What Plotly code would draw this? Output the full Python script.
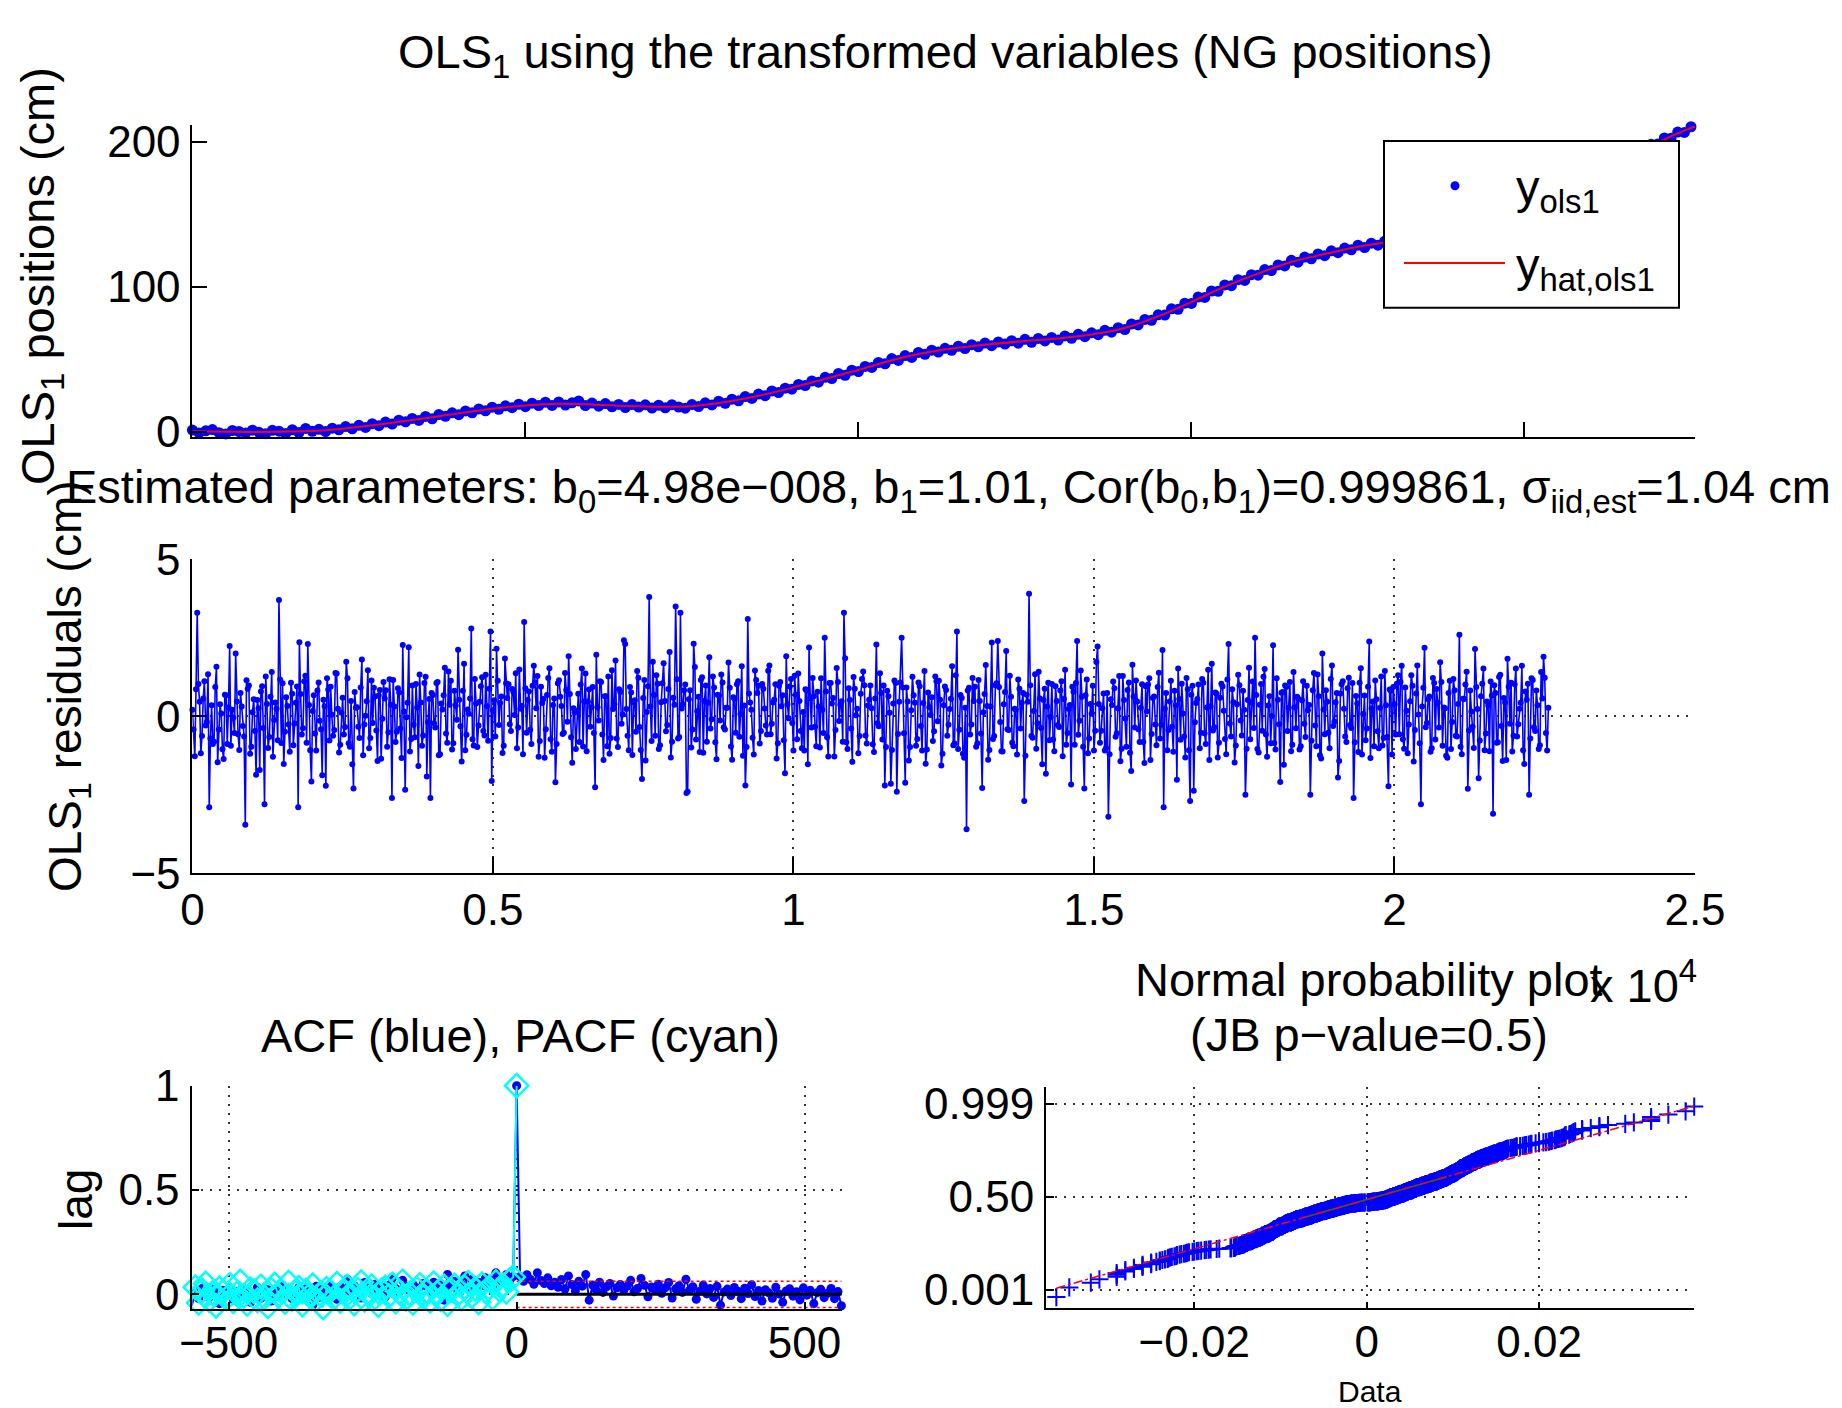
import numpy as np
import plotly.graph_objects as go
from statistics import NormalDist

W, H = 1842, 1408
FONT = "Liberation Sans, Arial, Helvetica, sans-serif"
BLUE, RED, CYAN, GREEN = "#0000ff", "#ff0000", "#00ffff", "#008000"

# ---------------- data ----------------
# fitted OLS_1 positions (cm) at sample index fit_x
fit_x = list(range(0, 22501, 500)) + [22560]
fit_y = [0.3, 0.0, -0.2, 0.1, 1.0, 3.3, 6.1, 9.3, 12.6, 15.8, 18.1, 19.3, 18.8, 17.7, 17.1, 17.6,
         20.4, 24.8, 30.2, 36.4, 42.5, 49.2, 54.4, 57.8, 60.4, 62.5, 64.3, 67.0, 71.5, 79.5, 89.5,
         100.0, 109.0, 117.0, 122.5, 127.5, 131.0, 133.5, 137.0, 142.0, 150.0, 161.0, 174.0, 187.5,
         199.5, 209.5, 210.5]

# observed OLS_1 positions (cm), one every 100 samples
obs_step = 100
obs_y = [1.1, -0.9, 0.6, 1.4, -0.7, -1.6, 0.8, 0.1, -1.0, 1.0, -0.5, -1.4, 0.9, 0.3, -1.2,
         1.3, -0.6, 2.2, 0.2, 1.6, 0.1, 2.4, 1.3, 3.5, 2.0, 4.4, 2.9, 5.5, 4.1, 6.6,
         5.2, 7.9, 6.8, 9.1, 7.7, 10.5, 8.9, 11.8, 10.6, 13.0, 11.7, 14.3, 13.0, 15.7, 14.4,
         16.9, 15.4, 17.8, 16.5, 18.9, 17.2, 19.6, 18.0, 20.3, 18.1, 20.5, 18.3, 19.9, 21.2, 18.0,
         19.7, 17.6, 19.4, 17.1, 18.8, 16.6, 18.7, 17.0, 18.5, 16.3, 18.2, 16.4, 18.6, 17.0, 16.2,
         18.7, 17.3, 19.9, 18.4, 21.0, 19.5, 22.4, 21.3, 24.2, 22.9, 25.9, 24.8, 28.1, 27.0, 30.0,
         29.3, 32.6, 31.8, 35.0, 34.1, 37.5, 36.6, 40.1, 38.9, 42.4, 41.4, 45.0, 44.3, 47.7, 46.8,
         50.4, 49.1, 52.5, 51.2, 54.6, 53.3, 56.2, 54.9, 57.5, 56.1, 58.9, 57.3, 60.0, 58.5, 61.1,
         59.3, 61.9, 60.4, 62.7, 61.0, 63.7, 61.6, 64.3, 62.6, 65.0, 63.2, 66.0, 64.4, 67.1, 65.5,
         68.2, 66.9, 69.9, 68.6, 71.7, 70.4, 74.3, 73.6, 77.4, 76.8, 80.6, 80.4, 84.7, 84.4, 88.6,
         88.4, 92.8, 92.6, 97.0, 96.8, 101.2, 100.7, 104.8, 104.3, 108.3, 107.9, 111.8, 111.1, 115.0, 114.3,
         118.2, 116.9, 120.4, 119.2, 122.6, 121.4, 124.7, 123.4, 126.6, 125.4, 128.6, 127.0, 130.0, 128.6, 131.4,
         129.9, 132.6, 131.0, 133.6, 132.0, 134.6, 133.1, 136.0, 134.5, 137.4, 135.9, 139.2, 138.0, 141.1, 139.9,
         143.1, 142.5, 146.3, 145.7, 149.5, 148.9, 153.3, 153.4, 157.7, 157.7, 162.1, 162.5, 167.3, 167.7, 172.5,
         172.9, 177.8, 178.3, 183.2, 183.7, 188.6, 188.8, 193.4, 193.6, 198.2, 198.4, 202.6, 202.4, 206.6, 206.4,
         210.3]

# OLS_1 residuals (cm): samples 0, 40, 80, ... and samples 20, 60, 100, ...
resid_step = 40
resid_even = [
    0.21, -1.27, 3.30, 0.46, -0.63, 1.12, -0.18, -2.90, 0.35, -0.81, 1.58, -0.42, 0.09, -1.36, 0.67, 0.28, -0.94, -0.05, 2.00, -0.57,
    0.74, -0.31, -3.45, 0.88, -1.19, 0.13, -0.47, 0.52, -1.71, 0.96, -2.80, 0.39, -0.66, 1.41, -0.12, 0.24, 3.70, -0.85, -1.52, 0.61,
    -0.26, 1.07, -0.92, 0.43, -2.90, 0.71, -0.38, 1.29, 2.30, -1.08, 0.17, -0.55, 0.82, -0.14, -1.88, 0.32, 1.21, -0.77, 0.05, -0.44,
    1.36, -1.15, 0.11, -0.58, 1.74, -0.86, 0.49, -2.30, 0.27, -0.33, 0.92, -1.24, 0.02, 1.47, -0.69, -0.21, 0.63, -1.42, 0.84, -0.08,
    0.57, -0.97, 1.18, -2.60, 0.31, -0.49, 0.76, -1.33, 0.15, -0.03, 2.20, -0.72, -0.27, 1.03, -1.58, 0.44, -0.61, 1.26, -0.19, -2.60,
    0.68, -0.36, 1.09, -1.21, 0.22, 1.55, -0.84, 0.37, -1.06, 0.81, -0.11, 0.53, -1.44, 1.67, -0.59, 0.08, 2.80, -0.93, 0.41, -0.29,
    0.96, -0.47, 1.32, -0.78, 2.70, 0.19, -0.64, 1.13, 0.42, -1.17, 1.84, 0.58, -0.25, 0.87, 0.04, -1.02, 1.49, 0.33, 3.00, -0.52,
    0.79, -0.88, 1.61, 0.26, -1.29, 0.94, 0.55, -0.41, 1.22, -0.73, 0.36, -2.10, 1.05, 0.62, -0.56, 1.38, -0.17, 0.71, -1.48, 0.12,
    0.18, -0.82, 1.52, 0.47, -1.11, 0.85, 0.29, -0.53, 1.96, -0.13, 1.09, -1.39, 0.64, 1.27, -0.69, 0.23, 1.78, -0.98, 0.77, 0.06,
    2.30, -0.62, 0.93, -1.23, 0.51, 1.44, -0.34, -2.00, 1.16, 0.14, 3.80, -0.79, 0.68, 1.31, -1.04, 0.45, 1.69, -0.48, 0.87, -1.31,
    0.59, 3.50, -0.71, 3.30, 0.38, 1.01, -2.40, 0.83, -0.42, 1.57, 0.16, -1.14, 1.24, 0.49, -0.81, 1.88, -0.09, 0.92, -1.37, 0.66,
    1.33, -0.35, 0.27, 1.71, -0.96, 0.61, -0.52, 1.12, 0.07, -1.26, -2.20, 3.10, 0.44, -0.68, 1.46, 0.74, -0.87, 1.03, 0.25, -0.58,
    1.62, -0.24, 0.53, -1.34, 0.97, 0.32, -0.76, 1.91, -0.06, 1.19, -1.09, 0.69, 1.36, -0.47, 0.14, 0.86, -1.53, 0.58, 1.22, -0.33,
    0.78, -0.99, 0.21, 2.50, -0.67, 1.06, 0.41, -1.28, 1.54, -0.15, 0.48, 3.30, -0.83, 0.89, -0.39, 1.25, 0.03, -1.18, 0.72, 1.43,
    -0.61, 0.34, 0.98, -0.89, 0.57, -0.22, 1.37, -0.74, -2.20, 0.81, 0.11, -1.07, 1.14, -2.40, 0.46, 2.50, -0.54, 0.92, -1.41, 0.19,
    0.67, -0.94, 1.08, -0.31, 0.42, -1.51, 0.76, 0.04, -0.79, 1.27, -0.16, 0.53, -1.19, 0.95, -0.62, 0.23, 1.59, -0.87, 2.70, -0.43,
    0.58, -1.32, -3.60, 0.91, -0.26, 0.49, -0.97, 1.16, -0.55, 0.13, 1.63, -1.38, 0.31, -0.72, 0.99, 2.40, -0.18, -1.12, 0.77, -0.41,
    1.29, -0.84, 0.24, -1.22, 0.88, 0.43, -2.70, 0.69, 3.90, -0.63, 0.17, -1.03, 1.42, -0.37, 0.52, -1.83, 1.07, -0.02, -0.74, 0.96,
    -0.28, 0.82, -1.27, 1.48, -0.53, 0.36, 0.94, -0.91, 2.40, -0.14, 0.62, -2.30, 1.17, -0.71, 0.08, -1.09, 1.73, 0.39, -0.46, 0.73,
    -1.01, -3.20, 0.54, 1.11, -0.65, 0.26, -1.43, 1.28, -0.07, 0.84, -1.16, 1.64, -0.36, 0.47, -0.82, 1.02, -1.49, 0.15, 1.21, -0.56,
    0.63, -0.92, 1.39, -0.27, -2.90, 0.74, -0.44, 1.13, -1.13, 0.35, 1.52, -0.75, 0.09, -1.31, 0.86, -2.70, 0.97, -0.19, 0.55, -1.02,
    1.19, -0.54, 0.28, -1.39, 1.67, -0.35, 0.72, -0.84, 1.04, 0.18, -1.21, 2.30, -0.64, 0.45, -0.93, 1.32, -0.13, 0.81, -2.50, 0.52,
    -0.73, 1.11, 2.50, -1.04, 0.37, -0.46, 1.51, -1.29, 0.64, 0.01, -0.85, 1.21, -0.25, 0.75, -1.54, 0.93, 0.27, -1.11, 1.41, -0.38,
    0.56, -0.95, 1.12, -0.66, 0.19, -2.50, 0.83, -0.29, 1.33, -1.24, 2.00, -0.57, 0.46, -1.02, 1.62, -0.17, 0.74, -1.42, 1.02, 0.24,
    -0.82, 1.23, -0.37, -2.60, 0.65, -1.14, 1.53, 0.07, -0.76, 0.94, -1.33, 0.47, 1.14, -0.48, 0.27, -0.93, 1.44, -0.66, 0.85, -1.22,
    0.38, 1.04, -0.57, 1.61, -1.03, 0.18, -0.26, 1.31, -1.44, 0.73, 0.06, -2.80, 0.91, -0.35, 0.54, -1.13, 1.22, -0.74, 0.43, 1.72,
    -0.94, 0.26, -1.32, 1.13, -0.18, 0.83, -0.64, 2.60, -1.21, 0.55, 1.42, -0.45, 0.15, -1.01, 0.93, -1.97, 0.64, 1.52, -0.55, 0.34,
    1.11, -3.10, 0.74, -0.83, 1.32, -1.42, 0.44, 1.83, -0.24, -1.12, 1.02, -0.64, 0.24, 1.61, -1.52, 0.53, -2.50, 1.21, -0.35, 0.82,
    -1.04, 1.41, 1.90, -0.53, 0.27]
resid_odd = [
    -0.42, 0.86, 1.03, -1.18, 0.57, -0.29, 1.34, -0.71, -0.88, 0.93, -1.46, 0.38, -1.05, 0.69, -0.88, 2.24, 0.21, -0.53, 0.47, -1.07,
    0.31, -0.64, 1.15, 0.98, -0.97, 0.54, -1.86, 0.26, 0.79, -0.37, 1.27, -1.01, 0.62, -1.29, 0.44, -0.76, 1.17, 1.05, -0.49, 0.33,
    -1.13, 0.72, -0.23, 0.95, 2.36, -0.58, 1.12, -0.84, 0.36, -2.08, 0.67, -1.09, 1.08, -0.41, 0.53, -2.21, 0.85, 0.94, -0.62, 1.38,
    0.24, -0.91, 0.59, -0.34, 1.21, -0.97, -1.53, 0.77, 0.29, -0.69, 1.81, -0.26, 0.48, -1.02, 1.14, 0.91, -0.45, 0.66, -1.35, 1.09,
    0.83, -0.51, 0.37, 1.16, -0.82, 0.89, -0.39, 2.27, -2.34, 0.43, -1.12, 0.98, -0.67, 0.28, 1.33, -0.94, 1.06, -1.92, 0.55, 0.74,
    -0.22, 1.06, -1.24, 0.41, 0.67, -0.55, 1.43, 1.13, -0.86, 0.34, 2.12, -0.32, 0.81, -1.08, 0.22, 0.57, -0.73, 1.19, -0.98, 0.46,
    1.24, -0.61, 0.32, 0.88, -2.06, 0.51, 2.15, -0.28, 0.63, -0.94, 1.05, 1.02, -0.47, 0.78, 1.37, -0.36, 0.24, -1.21, 0.89, 0.52,
    -0.43, 0.97, 1.08, 1.28, -0.79, 0.42, -1.32, 0.68, 1.53, -1.13, 0.57, -0.88, 1.15, 0.33, -0.52, 0.84, 1.91, -0.67, 0.26, -1.04,
    0.72, 1.01, -0.96, 1.36, 0.47, -0.33, 0.93, -2.26, 0.29, 1.12, -0.58, 0.64, -0.95, -1.19, 1.47, 0.38, -0.71, 0.86, -0.24, 2.42,
    0.23, -1.08, 0.76, 0.44, -0.49, 1.23, -1.07, 0.58, -1.41, 0.96, 0.31, 1.74, -0.62, 1.04, -0.92, 1.05, 0.49, -0.28, 2.05, -0.81,
    0.37, 1.18, -0.66, 0.25, 0.83, -2.44, 0.54, -0.99, 2.31, -0.74, 0.62, 1.16, -1.16, 0.98, 0.43, -0.39, 1.27, -0.83, 0.69, -0.13,
    1.08, -0.42, 0.27, 0.91, -1.38, 0.56, 1.02, -0.65, 1.59, 0.34, -0.98, 0.73, 0.21, -1.22, 1.16, 0.97, -0.47, 0.88, -0.29, 1.45,
    -0.57, 0.44, 1.02, -0.86, 1.09, 0.67, -1.81, 0.38, 0.95, -0.21, 1.29, -0.73, 0.49, -1.02, -1.09, 0.82, 2.19, -0.36, 0.64, -0.95,
    0.31, 1.21, -0.53, 0.79, -1.28, 1.06, 0.58, -0.44, 1.09, 0.37, -0.81, 1.85, -1.04, 0.52, -1.45, 0.88, 0.24, -0.63, 1.19, 0.99,
    -0.87, 0.53, 0.26, -1.14, 2.29, -0.32, 0.74, 0.98, -0.98, 0.64, -2.15, 0.41, 1.06, -0.56, 1.08, 0.92, -2.12, 0.47, -0.98, 1.26,
    0.43, -0.72, 0.96, -1.09, 1.44, -1.06, 0.29, 0.61, -0.48, 1.12, 1.13, -1.57, 0.35, 0.84, -0.27, 0.56, -0.92, 1.31, -1.04, 0.68,
    -1.19, 0.27, 0.82, -0.58, 1.22, 0.94, -0.86, 0.49, -2.28, 0.71, 0.33, -1.07, 2.35, -0.63, 1.05, 0.93, -1.11, 0.38, 2.08, -0.44,
    0.62, -0.95, 0.21, 1.17, -0.39, 0.74, -1.26, 0.46, 0.99, -0.68, 1.34, -0.22, 0.57, -1.53, 0.88, 0.31, -0.76, 1.03, -1.11, 0.49,
    -0.34, 1.12, 0.55, -0.91, 0.23, -2.17, 0.78, 1.06, -0.59, 1.46, -0.97, 0.67, -1.18, 0.39, 0.97, -0.46, 2.22, -0.84, 0.26, -1.09,
    0.74, -1.21, 0.36, 0.89, -0.54, 1.28, -1.03, 0.52, -0.97, 1.08, -1.74, 0.63, 1.14, -0.41, 0.27, -0.82, 0.96, 1.01, -1.39, 0.58,
    -0.26, 0.93, -0.71, 2.11, 0.24, -1.08, 0.47, -0.33, 0.81, -2.02, 0.55, 1.04, -0.64, 1.22, -1.08, 0.69, -2.37, 0.42, 1.01, -0.52,
    1.07, -0.88, 1.48, 0.32, -0.45, 0.76, -1.31, 0.59, 0.95, -0.72, 1.17, -0.23, 0.86, -1.47, 0.38, 0.99, -0.61, 0.21, -1.03, 1.55,
    0.44, -0.37, 0.68, -1.15, 1.03, 1.26, -0.58, 0.34, -0.86, 2.26, -1.06, 0.53, -2.09, 0.77, 0.98, -0.47, 1.09, -0.91, 0.29, 0.62,
    -1.06, 0.51, -0.24, 0.97, 0.36, -0.78, 1.38, -0.95, 0.64, -1.34, 0.22, 0.83, -0.52, 1.19, -0.31, 0.45, -1.95, 0.73, 1.12, -0.64,
    0.89, -0.28, 1.06, -0.83, 0.41, 1.07, -1.22, 0.66, -0.39, 2.38, 0.25, -0.95, 0.54, -1.02, 1.27, -0.69, 0.35, -2.23, 0.81, 0.93,
    -0.58, 1.31, 1.09, -0.73, 0.92, -1.18, 0.48, 0.97, -0.44, 1.62, -0.86, 0.31, 2.18, -0.21, 0.63, -1.02, 1.06, 0.87, -0.36, 1.09,
    0.28, -1.26, 0.74, -1.04, 1.19, -0.62, 0.39, -0.97, 0.56, 1.01, -2.31, 0.82, -0.33, 2.14, 0.23, -0.77, 1.04, -1.08, 0.47, -1.11,
    0.66, 0.99, -0.84, 1.25, -0.31, 0.58, -1.39, 0.94, 1.07, -0.62, 1.52, -0.25, 0.43, -1.08, 0.79, 1.04, -0.71, 1.16, -0.47, 0.35,
    -0.92, 0.57, 1.23, -1.09]

# autocorrelation of the residuals at lags 6, 12, ..., 564
lag_step = 6
acf_pos = [0.085, 0.062, 0.094, 0.071, 0.048, 0.103, 0.066, 0.052, 0.079, 0.041,
           0.058, 0.034, 0.071, 0.025, 0.088, 0.047, 0.016, 0.062, 0.039, 0.095,
           -0.028, 0.044, 0.021, 0.058, 0.009, 0.036, 0.052, -0.008, 0.031, 0.047,
           0.018, 0.039, 0.067, 0.012, 0.028, 0.076, 0.043, -0.012, 0.035, 0.022,
           0.048, 0.005, 0.031, 0.057, -0.018, 0.026, 0.041, 0.009, 0.072, 0.019,
           0.036, -0.024, 0.015, 0.044, 0.002, 0.028, -0.015, 0.038, -0.052, 0.011,
           0.025, -0.006, 0.033, 0.014, -0.021, 0.029, 0.004, 0.046, -0.011, 0.018,
           -0.032, 0.022, 0.007, -0.019, 0.034, 0.001, -0.038, 0.016, 0.027, -0.009,
           0.012, -0.027, 0.031, -0.004, 0.019, -0.045, 0.008, 0.024, -0.016, 0.005,
           0.028, -0.021, 0.013, -0.055]
# partial autocorrelation drawn on the negative lags -564, ..., -6
pacf_neg = [-0.012, 0.034, -0.041, 0.018, 0.052, -0.027, 0.006, -0.055, 0.029, 0.011,
            -0.019, 0.045, -0.034, 0.003, 0.061, -0.008, -0.046, 0.024, 0.015, -0.029,
            0.038, -0.014, -0.058, 0.021, 0.047, -0.003, 0.012, -0.037, 0.056, -0.021,
            0.008, 0.031, -0.049, 0.017, -0.006, 0.043, -0.025, 0.002, -0.063, 0.027,
            0.014, -0.018, 0.051, -0.032, 0.009, 0.036, -0.011, -0.044, 0.022, 0.058,
            -0.026, 0.005, 0.039, -0.016, -0.052, 0.019, 0.033, -0.008, 0.047, -0.035,
            0.011, 0.062, -0.021, 0.004, -0.041, 0.028, 0.045, -0.013, 0.016, -0.031,
            0.053, 0.007, -0.024, 0.037, -0.047, 0.021, 0.042, 0.001, -0.019, 0.034,
            0.056, -0.009, 0.026, -0.038, 0.048, 0.015, 0.031, -0.016, 0.059, 0.023,
            0.044, 0.012, 0.067, 0.082]
conf_bound = 0.063
max_lag = 564

main_title = "OLS<sub>1</sub> using the transformed variables (NG positions)"
param_title = ("Estimated parameters: b<sub>0</sub>=4.98e\u2212008, b<sub>1</sub>=1.01, "
               "Cor(b<sub>0</sub>,b<sub>1</sub>)=0.999861, \u03c3<sub>iid,est</sub>=1.04 cm")

# ---------------- derived series ----------------
obs_x = np.arange(len(obs_y)) * obs_step
x_even = np.arange(len(resid_even)) * resid_step
x_odd = np.arange(len(resid_odd)) * resid_step + resid_step // 2
order = np.argsort(np.concatenate([x_even, x_odd]), kind="stable")
resid_x = np.concatenate([x_even, x_odd])[order]
resid = np.concatenate([resid_even, resid_odd])[order]

lags_pos = np.arange(1, len(acf_pos) + 1) * lag_step
acf_lags = np.concatenate([-lags_pos[::-1], [0], lags_pos])
acf_vals = np.concatenate([np.array(acf_pos)[::-1], [1.0], acf_pos])
pacf_lags = np.concatenate([-lags_pos[::-1], [0]])
pacf_vals = np.concatenate([pacf_neg, [1.0]])

# normal probability plot of the residuals (in metres)
nd = NormalDist()
data_m = np.sort(resid) / 100.0
n = len(data_m)
zq = np.array([nd.inv_cdf((i + 0.5) / n) for i in range(n)])
q1, q3 = np.percentile(data_m, [25, 75])
z1, z3 = nd.inv_cdf(0.25), nd.inv_cdf(0.75)
slope = (z3 - z1) / (q3 - q1)
ref_x = np.array([data_m.min(), data_m.max()])
ref_z = z1 + slope * (ref_x - q1)

# ---------------- figure ----------------
def px(x):
    return x / W


def py(y):
    return 1 - y / H


fig = go.Figure()

# top: positions and fit
fig.add_trace(go.Scatter(x=obs_x, y=obs_y, mode="markers", cliponaxis=False,
                         marker=dict(color=BLUE, size=11), xaxis="x", yaxis="y"))
fig.add_trace(go.Scatter(x=fit_x, y=fit_y, mode="lines", line=dict(color=RED, width=2, shape="spline"),
                         xaxis="x", yaxis="y"))

# middle: residuals
fig.add_trace(go.Scatter(x=resid_x, y=resid, mode="lines+markers", cliponaxis=False,
                         line=dict(color=BLUE, width=1.6), marker=dict(color=BLUE, size=6),
                         xaxis="x2", yaxis="y2"))

# bottom left: ACF / PACF
fig.add_trace(go.Scatter(x=acf_lags, y=acf_vals, mode="lines+markers", cliponaxis=False,
                         line=dict(color=BLUE, width=2), marker=dict(color=BLUE, size=9),
                         xaxis="x3", yaxis="y3"))
fig.add_trace(go.Scatter(x=[0, max_lag], y=[0, 0], mode="lines", line=dict(color="black", width=3),
                         xaxis="x3", yaxis="y3"))
for b in (conf_bound, -conf_bound):
    fig.add_trace(go.Scatter(x=[0, max_lag], y=[b, b], mode="lines",
                             line=dict(color=RED, width=1.5, dash="dot"), xaxis="x3", yaxis="y3"))
fig.add_trace(go.Scatter(x=pacf_lags, y=pacf_vals, mode="lines+markers", cliponaxis=False,
                         line=dict(color=CYAN, width=2),
                         marker=dict(symbol="diamond-open", color=CYAN, size=18, line=dict(width=2.5, color=CYAN)),
                         xaxis="x3", yaxis="y3"))

# bottom right: normal probability plot
fig.add_trace(go.Scatter(x=data_m, y=zq, mode="markers", cliponaxis=False,
                         marker=dict(symbol="cross-thin", size=13, color=BLUE, line=dict(width=2, color=BLUE)),
                         xaxis="x4", yaxis="y4"))
fig.add_trace(go.Scatter(x=[q1, q3], y=[z1, z3], mode="lines", line=dict(color=GREEN, width=1.5),
                         xaxis="x4", yaxis="y4"))
fig.add_trace(go.Scatter(x=ref_x, y=ref_z, mode="lines", line=dict(color=RED, width=1.5, dash="dashdot"),
                         xaxis="x4", yaxis="y4"))

axis_common = dict(showline=True, linecolor="black", linewidth=2, ticks="inside", tickcolor="black",
                   tickwidth=1.5, zeroline=False, automargin=False,
                   tickfont=dict(family=FONT, size=44, color="black"),
                   gridcolor="#333333", gridwidth=1.5, griddash="2px,7px")

dom_x_wide = [px(192.4), px(1695)]
fig.update_layout(
    width=W, height=H, autosize=False,
    margin=dict(l=0, r=0, t=0, b=0, pad=0, autoexpand=False),
    paper_bgcolor="white", plot_bgcolor="white", showlegend=False,
    font=dict(family=FONT, size=44, color="black"),
    xaxis=dict(axis_common, domain=dom_x_wide, anchor="y", range=[0, 22560],
               tickvals=[5000, 10000, 15000, 20000], showticklabels=False, ticklen=15, showgrid=False),
    yaxis=dict(axis_common, domain=[py(437.3), py(125)], anchor="x", range=[-3.9, 211.5],
               tickvals=[0, 100, 200], ticklen=15, showgrid=False, ticklabelstandoff=1),
    xaxis2=dict(axis_common, domain=dom_x_wide, anchor="y2", range=[0, 25000],
                tickvals=[0, 5000, 10000, 15000, 20000, 25000],
                ticktext=["0", "0.5", "1", "1.5", "2", "2.5"], ticklen=16, showgrid=True,
                ticklabelstandoff=-3),
    yaxis2=dict(axis_common, domain=[py(873.3), py(559.3)], anchor="x2", range=[-5, 5],
                tickvals=[-5, 0, 5], ticklen=15, showgrid=True, ticklabelstandoff=1),
    xaxis3=dict(axis_common, domain=[px(192.4), px(842)], anchor="y3", range=[-563, 565],
                tickvals=[-500, 0, 500], ticklen=7, showgrid=True, ticklabelstandoff=-6),
    yaxis3=dict(axis_common, domain=[py(1309), py(1085.7)], anchor="x3", range=[-0.0705, 1.0],
                tickvals=[0, 0.5, 1], ticklen=7, showgrid=True, ticklabelstandoff=2),
    xaxis4=dict(axis_common, domain=[px(1046), px(1694.2)], anchor="y4", range=[-0.0372, 0.038],
                tickvals=[-0.02, 0, 0.02], ticklen=6, showgrid=True, ticklabelstandoff=-6),
    yaxis4=dict(axis_common, domain=[py(1308), py(1086.7)], anchor="x4", range=[-3.688, 3.664],
                tickvals=[nd.inv_cdf(0.001), 0, nd.inv_cdf(0.999)],
                ticktext=["0.001", "0.50", "0.999"], ticklen=8, showgrid=True, ticklabelstandoff=1),
)


def note(text, x, y, size=47, angle=0, xanchor="center", yanchor="middle"):
    fig.add_annotation(text=text, x=px(x), y=py(y), xref="paper", yref="paper", showarrow=False,
                       textangle=angle, xanchor=xanchor, yanchor=yanchor,
                       font=dict(family=FONT, size=size, color="black"))


note(main_title, 945, 55)
note(param_title, 948, 490)
note("OLS<sub>1</sub> positions (cm)", 41, 276, size=47, angle=-90)
note("OLS<sub>1</sub> residuals (cm)", 68, 686, size=46, angle=-90)
note("lag", 76, 1200, size=46, angle=-90)
note("ACF (blue), PACF (cyan)", 520, 1035)
note("Normal probability plot", 1369, 979)
note("(JB p\u2212value=0.5)", 1369, 1034)
note("Data", 1370, 1391, size=30)
note("x 10<sup>4</sup>", 1588, 982, xanchor="left")

# legend box of the top panel
fig.add_shape(type="rect", xref="paper", yref="paper", x0=px(1384), x1=px(1679), y0=py(307.7), y1=py(141),
              line=dict(color="black", width=2), fillcolor="white", layer="above")
fig.add_shape(type="circle", xref="paper", yref="paper", x0=px(1450.5), x1=px(1459.5), y0=py(190.2),
              y1=py(181.2), line=dict(color=BLUE, width=0), fillcolor=BLUE, layer="above")
fig.add_shape(type="line", xref="paper", yref="paper", x0=px(1404), x1=px(1505), y0=py(263), y1=py(263),
              line=dict(color=RED, width=2), layer="above")
note("y<sub>ols1</sub>", 1514, 190, xanchor="left")
note("y<sub>hat,ols1</sub>", 1514, 268, xanchor="left")

fig.write_html("out.html")
